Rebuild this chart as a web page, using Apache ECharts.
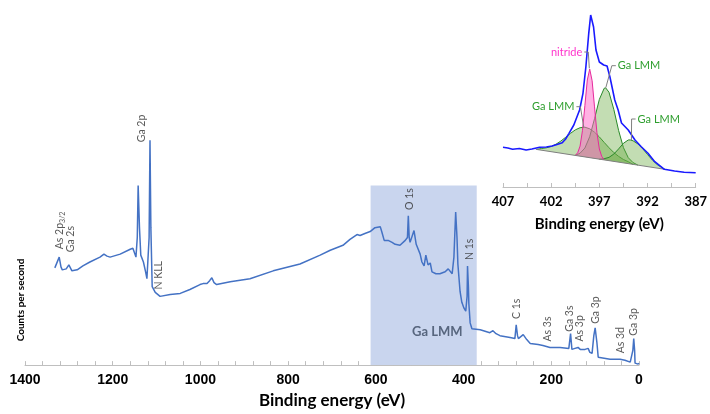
<!DOCTYPE html>
<html>
<head>
<meta charset="utf-8">
<script src="https://cdn.jsdelivr.net/npm/echarts@6/dist/echarts.min.js"></script>
<style>html,body{margin:0;padding:0;background:#fff}#c{width:710px;height:414px}</style>
</head>
<body>
<div id="c"></div>
<script>
// ---- Survey spectrum (main chart) ----
const surveyBE = [1332,1322,1318,1315,1306,1300,1293,1281,1268,1252,1229,1220,1213,1206,1183,1160,1154,1147,1144,1142,1139,1136,1130,1125,1122,1119,1117,1115,1113,1110,1103,1092,1069,1046,1024,1001,994,985,979,974,969,963,932,887,834,773,727,704,675,659,643,636,625,613,602,590,586,581,572,563,556,545,533,528,526,524,522,518,513,508,504,499,495,490,486,481,476,472,463,454,442,435,431,426,422,418,415,413,408,404,399,395,392,391,389,388,385,381,362,340,333,326,317,294,283,280,277,275,271,264,256,248,230,226,219,203,180,160,156,153,146,139,134,123,116,112,107,103,100,96,93,89,66,43,39,32,20,16,14,12,10,9,2,0];
const surveyCounts = [99,110,100,97,98,102,96,97,101,105,110,113,111,110,113,118,119,110,130,183,140,112,105,95,88,87,130,229,140,80,74,70,72,73,77,82,83,83,86,89,84,82,85,88,96,103,112,117,122,128,133,132,134,136,140,141,135,127,127,125,123,122,127,130,152,130,125,123,137,123,125,113,105,101,112,102,104,95,93,93,95,98,96,93,110,156,130,103,75,64,58,55,70,101,80,63,43,37,36,33,35,32,30,28,27,41,30,27,28,31,26,22,21,23,20,18,18,17,32,16,17,18,16,16,17,13,12,30,38,23,8,7,6,6,7,5,3,3,15,27,15,2,1,2];

// main x ticks
const mainMin = 0, mainMax = 1400, mainTickStep = 40, mainLabelStep = 200;

// peak annotations (label foot position in data coords)
const peakNames = ['As 2p3/2','Ga 2s','Ga 2p','N KLL','O 1s','N 1s','C 1s','As 3s','Ga 3s','As 3p','Ga 3p','As 3d','Ga 3p'];
const peakBE    = [1320,1297,1134,1095,522,387,279,209,159,134.5,100,42,13];
const peakY     = [118,115,227,77,158,107,47,24,34,24,42,12,30];

// highlighted Ga LMM region
const regionBE = [612, 370];
const regionTop = 183;
const regionName = 'Ga LMM';
const regionLabelBE = 460;
const regionLabelY = 34;

// ---- Inset: N 1s / Ga LMM region ----
const insetMaxBE = 407, insetMinBE = 387;
const insetBE = [407.0,406.5,406.0,405.3,404.6,404.0,403.2,402.5,401.9,401.4,400.85,400.5,400.15,399.65,399.05,398.7,398.4,398.1,397.9,397.6,397.35,397.0,396.55,396.2,395.9,395.4,395.05,394.7,394.0,393.3,392.65,391.95,391.25,390.25,389.2,388.2,387.0];
const insetCounts = [39.7,39,37.7,38.5,37,38,39.7,40,41,42.5,44.3,48,53.7,62,77,93.7,120,153.7,172,160,137,125,122,121,110,87,77,64,57,47,40.3,33.7,25.3,17.7,16,14.7,14.3];

const backgroundBE = [403.6, 390.2];
const backgroundVal = [37.7, 17.7];

const lmm1BE  = [403.5,403,402.5,402,401.5,401,400.5,400,399.5,399,398.5,398,397.5,397,396.5,396,395.5,395,394.5,394,393.5];
const lmm1Val = [37.6,38.5,39.2,40.5,42.8,45.9,49.7,53.6,57.1,59.3,59.8,58.2,54.8,50.1,44.6,39.3,34.5,30.6,27.5,25.3,22.6];

const nitrideBE  = [399.5,399.25,399,398.75,398.5,398.25,398,397.75,397.5,397.25,397,396.75,396.5];
const nitrideVal = [31.6,34.2,40.9,56.6,81.6,107.0,117.9,106.3,80.1,54.3,38.0,30.5,27.1];

const lmm2BE  = [399.5,399,398.5,398,397.5,397,396.5,396.35,396,395.5,395,394.5,394,393.5,393];
const lmm2Val = [31.6,33.8,39.0,50.3,68.3,87.6,98.7,99.2,94.8,77.7,56.5,39.4,29.3,24.4,21.9];

const lmm3BE  = [397,396.5,396,395.5,395,394.5,394,393.8,393.5,393,392.5,392,391.5,391,390.5,390.2];
const lmm3Val = [27.9,28.3,29.6,32.9,38.1,43.7,47.0,47.1,46.2,43.1,38.4,32.5,27.0,22.5,19.5,17.7];

// inset annotations: anchor (BE,val) and text edge (BE,val)
const insetLabelText     = ['nitride','Ga LMM','Ga LMM','Ga LMM'];
const insetLabelColor    = ['#ff33cc','#2e9e2e','#2e9e2e','#2e9e2e'];
const insetAnchorBE      = [398.04, 396.33, 398.62, 393.67];
const insetAnchorVal     = [118.7, 99.3, 59.7, 47];
const insetTextBE        = [398.77, 395.08, 399.59, 393.03];
const insetTextVal       = [135, 121.3, 80.3, 68];

// ---------------------------------------------------------
const toU = be => insetMaxBE - be;
const pairs = (xs, ys, f) => xs.map((x, i) => [f ? f(x) : x, ys[i]]);

function areaRender(beArr, valArr, fill, stroke) {
  return function (params, api) {
    if (params.dataIndex !== 0) return;
    const pts = beArr.map((b, i) => api.coord([toU(b), valArr[i]]));
    return {
      type: 'group',
      children: [
        { type: 'polygon', shape: { points: pts }, style: { fill: fill, stroke: null } },
        { type: 'polyline', shape: { points: pts }, style: { fill: null, stroke: stroke, lineWidth: 1 } }
      ]
    };
  };
}
function compSeries(beArr, valArr, fill, stroke) {
  return {
    type: 'custom', xAxisIndex: 1, yAxisIndex: 1, silent: true, clip: false,
    data: pairs(beArr, valArr, toU), encode: { x: 0, y: 1 },
    renderItem: areaRender(beArr, valArr, fill, stroke), z: 3
  };
}

const GREEN_FILL = 'rgba(104,170,64,0.4)';
const GREEN_LINE = '#2a8a2a';
const LABEL_COLOR = '#2f2f2f';

const chart = echarts.init(document.getElementById('c'), null, { renderer: 'canvas' });
chart.setOption({
  animation: false,
  backgroundColor: '#fff',
  grid: [
    { left: 25, right: 71, top: 100, bottom: 44 },
    { left: 503, right: 12, top: 0, bottom: 227 }
  ],
  xAxis: [
    {
      type: 'value', gridIndex: 0, min: mainMin, max: mainMax, interval: mainTickStep, inverse: true,
      axisLine: { lineStyle: { color: '#bfbfbf', width: 1 } },
      axisTick: { inside: true, length: 4, lineStyle: { color: '#bfbfbf' } },
      splitLine: { show: false },
      axisLabel: {
        interval: 0, margin: 8, color: '#000', fontFamily: 'Liberation Sans', fontWeight: 'bold', fontSize: 14,
        formatter: v => (v % mainLabelStep === 0 ? String(v) : '')
      },
      name: 'Binding energy (eV)', nameLocation: 'middle', nameGap: 26,
      nameTextStyle: { color: '#000', fontFamily: 'Lato', fontWeight: 'bold', fontSize: 17 }
    },
    {
      type: 'value', gridIndex: 1, min: 0, max: toU(insetMinBE), interval: 2.5,
      axisLine: { lineStyle: { color: '#bfbfbf', width: 1 } },
      axisTick: { inside: true, length: 4, lineStyle: { color: '#bfbfbf' } },
      splitLine: { show: false },
      axisLabel: {
        interval: 0, margin: 8, color: '#000', fontFamily: 'Lato', fontWeight: 'bold', fontSize: 13,
        formatter: v => (v % 5 === 0 ? String(insetMaxBE - v) : '')
      },
      name: 'Binding energy (eV)', nameLocation: 'middle', nameGap: 30,
      nameTextStyle: { color: '#000', fontFamily: 'Lato', fontWeight: 'bold', fontSize: 15 }
    }
  ],
  yAxis: [
    { type: 'value', gridIndex: 0, min: 0, max: 270, show: false },
    { type: 'value', gridIndex: 1, min: 0, max: 187, show: false }
  ],
  graphic: [
    {
      type: 'text', x: 21, y: 300, rotation: Math.PI / 2,
      style: { text: 'Counts per second', font: 'bold 10px Lato', fill: '#000', align: 'center', verticalAlign: 'middle' }
    }
  ],
  series: [
    {
      type: 'line', xAxisIndex: 0, yAxisIndex: 0, data: [], z: 1, silent: true,
      markArea: {
        silent: true, itemStyle: { color: '#c9d5ee' },
        data: [[{ xAxis: regionBE[0], yAxis: 0 }, { xAxis: regionBE[1], yAxis: regionTop }]]
      }
    },
    {
      type: 'line', xAxisIndex: 0, yAxisIndex: 0, z: 5,
      data: pairs(surveyBE, surveyCounts),
      showSymbol: false, symbol: 'none',
      lineStyle: { color: '#4472c4', width: 1.5 }
    },
    {
      type: 'scatter', xAxisIndex: 0, yAxisIndex: 0, z: 6, silent: true,
      symbolSize: 1, itemStyle: { color: 'rgba(0,0,0,0)' },
      data: peakNames.map((n, i) => ({ name: n, value: [peakBE[i], peakY[i]] })),
      label: {
        show: true, position: 'inside', rotate: 90, align: 'left', verticalAlign: 'middle',
        fontFamily: 'Lato', fontSize: 10.5, color: LABEL_COLOR,
        formatter: p => {
          if (p.name.indexOf('3/2') > 0) return '{a|' + p.name.replace('3/2', '') + '}{s|3/2}';
          return '{a|' + p.name + '}';
        },
        rich: {
          a: { fontFamily: 'Lato', fontSize: 10.5, color: LABEL_COLOR, lineHeight: 12 },
          s: { fontFamily: 'Lato', fontSize: 7, color: LABEL_COLOR, lineHeight: 12, verticalAlign: 'bottom' }
        }
      }
    },
    {
      type: 'scatter', xAxisIndex: 0, yAxisIndex: 0, z: 6, silent: true,
      symbolSize: 1, itemStyle: { color: 'rgba(0,0,0,0)' },
      data: [{ name: regionName, value: [regionLabelBE, regionLabelY] }],
      label: {
        show: true, position: 'inside', formatter: '{b}',
        fontFamily: 'Lato', fontWeight: 'bold', fontSize: 13, color: '#3b4a62'
      }
    },
    compSeries(lmm1BE, lmm1Val, GREEN_FILL, GREEN_LINE),
    compSeries(lmm2BE, lmm2Val, GREEN_FILL, GREEN_LINE),
    compSeries(lmm3BE, lmm3Val, GREEN_FILL, GREEN_LINE),
    compSeries(nitrideBE, nitrideVal, 'rgba(255,100,200,0.5)', '#e62a9c'),
    {
      type: 'line', xAxisIndex: 1, yAxisIndex: 1, z: 4,
      data: pairs(backgroundBE, backgroundVal, toU),
      showSymbol: false, symbol: 'none',
      lineStyle: { color: '#7f7f7f', width: 1 }
    },
    {
      type: 'line', xAxisIndex: 1, yAxisIndex: 1, z: 5,
      data: pairs(insetBE, insetCounts, toU),
      showSymbol: false, symbol: 'none',
      lineStyle: { color: '#1a1aff', width: 1.6 }
    },
    {
      type: 'custom', xAxisIndex: 1, yAxisIndex: 1, z: 7, silent: true, clip: false,
      data: insetLabelText.map((t, i) => [toU(insetAnchorBE[i]), insetAnchorVal[i], toU(insetTextBE[i]), insetTextVal[i], i]),
      encode: { x: 0, y: 1 },
      renderItem: function (params, api) {
        const a = api.coord([api.value(0), api.value(1)]);
        const t = api.coord([api.value(2), api.value(3)]);
        const i = api.value(4);
        const dir = t[0] < a[0] ? 1 : -1;
        return {
          type: 'group',
          children: [
            {
              type: 'polyline',
              shape: { points: [[t[0] + dir * 2, t[1]], [t[0] + dir * 6, t[1]], a] },
              style: { stroke: '#7f7f7f', lineWidth: 1, fill: null }
            },
            {
              type: 'text', x: t[0], y: t[1],
              style: {
                text: insetLabelText[i], fill: insetLabelColor[i], font: '11px Lato',
                align: dir > 0 ? 'right' : 'left', verticalAlign: 'middle'
              }
            }
          ]
        };
      }
    }
  ]
});
</script>
</body>
</html>
